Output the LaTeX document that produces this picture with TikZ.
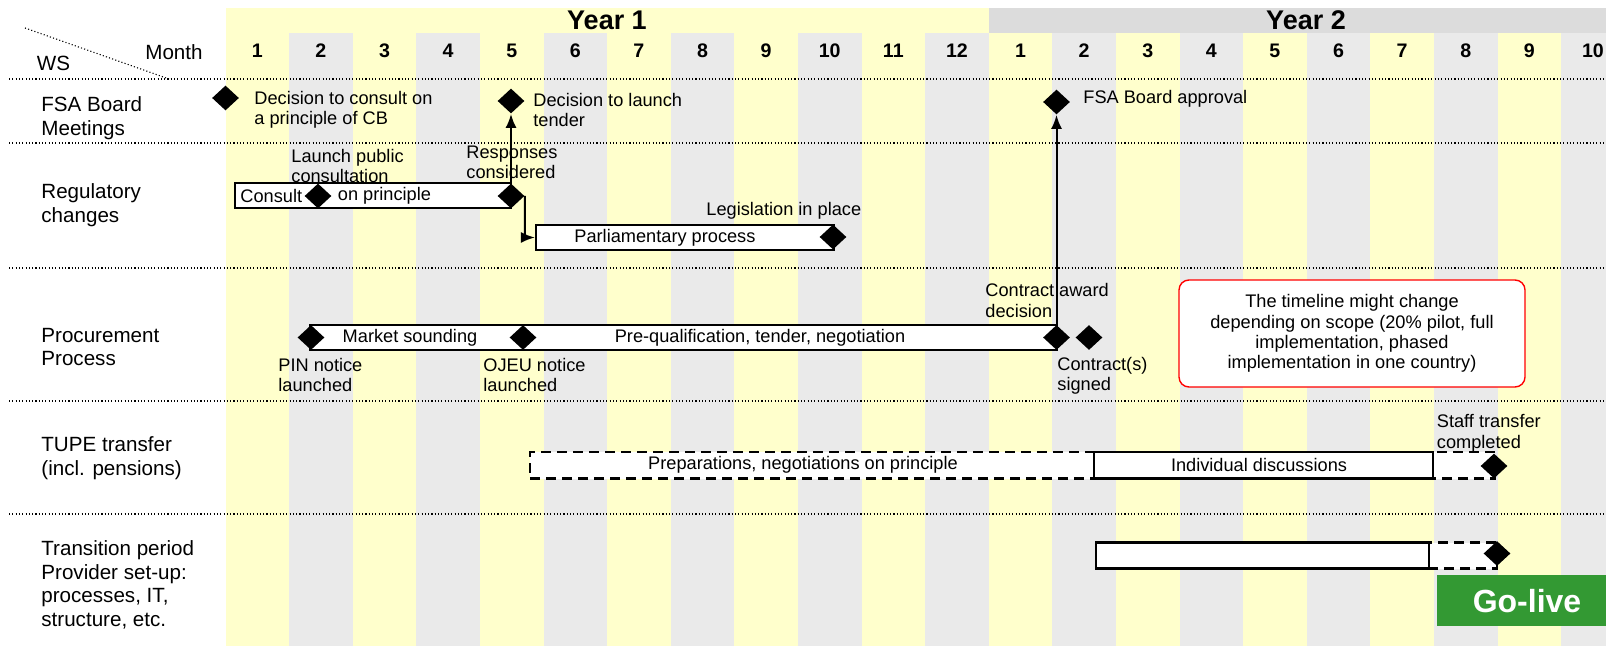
\documentclass[tikz,border=0pt]{standalone}
\usepackage{fontspec}
\setmainfont{Liberation Sans}
\usetikzlibrary{shapes.geometric,fit,arrows.meta}
\definecolor{colyellow}{HTML}{FFFFCC}
\definecolor{colgray}{HTML}{EAEAEA}
\definecolor{yeargray}{HTML}{DCDCDC}
\definecolor{golive}{HTML}{339933}

\begin{document}
\begin{tikzpicture}[x=0.5pt,y=-0.5pt,
  lbl/.style={font=\fontsize{10.3}{11.75}\selectfont, align=left, anchor=west, inner sep=0},
  note/.style={font=\fontsize{9.1}{10.2}\selectfont, align=left, anchor=west, inner sep=0},
  mon/.style={font=\fontsize{9.8}{11}\selectfont\bfseries, inner sep=0},
  yr/.style={font=\fontsize{13.5}{15}\selectfont\bfseries, inner sep=0},
  sep/.style={line width=0.55pt, dash pattern=on 0.55pt off 1.1pt},
  bar/.style={draw, fill=white, line width=1.1pt, inner sep=0},
  dbar/.style={bar, dash pattern=on 5pt off 3pt},
  ms/.style={diamond, fill=black, inner sep=0, minimum width=13.5pt, minimum height=12.5pt},
  link/.style={line width=1pt, -{Latex[length=7pt,width=5.5pt]}}]

\useasboundingbox (0,0) rectangle (1606,646);
\fill[colyellow] (225.5,8) rectangle (988.7,33);
\fill[yeargray] (988.7,8) rectangle (1606,33);
\foreach \m [count=\i from 0] in {1,2,3,4,5,6,7,8,9,10,11,12,1,2,3,4,5,6,7,8,9,10} {
  \pgfmathsetmacro\xa{225.5+63.6*\i}
  \ifodd\i\relax\def\cc{colgray}\else\def\cc{colyellow}\fi
  \fill[fill=\cc] (\xa,33) rectangle ++(63.6,613);
  \node[mon] at (\xa+31.8,51) {\m};
}
\node[yr] (year1) at (607,20) {Year 1};
\node[yr] (year2) at (1306,20) {Year 2};

\foreach \y in {79,143,268,401,514} \draw[sep] (9,\y) -- (1606,\y);
\draw[sep] (25,28) -- (169,79);
\node[lbl, anchor=center] (ws) at (53.5,63) {WS};
\node[lbl, anchor=center] (month) at (174,52) {Month};

\node[lbl] (fsa) at (41,118) {FSA Board\\Meetings};
\node[lbl] (reg) at (41,205) {Regulatory\\changes};
\node[lbl] (proc) at (41,347) {Procurement\\Process};
\node[lbl] (tupe) at (41,458) {TUPE transfer\\(incl. pensions)};
\node[lbl] (trans) at (41,585) {Transition period\\Provider set-up:\\processes, IT,\\structure, etc.};

\node[ms] (cons) at (225.5,98) {};
\node[note] at (254,110) {Decision to consult on\\a principle of CB};
\node[ms] (launch) at (511,101) {};
\node[note] at (533,110) {Decision to launch\\tender};
\node[ms] (appr) at (1056.5,102) {};
\node[note] at (1083,98.5) {FSA Board approval};

\node[bar, fit={(235,183) (511,208)}] (consbar) {};
\node[note] at (240,196) {Consult};
\node[ms] (pub) at (318,196) {};
\node[note] at (337.5,196) {on principle};
\node[ms] (resp) at (511,196) {};
\node[note] at (291,166) {Launch public\\consultation};
\node[note] at (466,162.5) {Responses\\considered};
\node[bar, fit={(536,225) (834,250)}] (parl) {};
\node[note] at (574,237.5) {Parliamentary process};
\node[ms] (legis) at (833,237) {};
\node[note] at (706,210.5) {Legislation in place};
\draw[link] (resp) -- (launch);
\draw[link] (resp.east) -- (525,237.5) -- (parl.west);

\node[bar, fit={(310,325) (1057,350)}] (procbar) {};
\node[ms] (pin) at (311,337.5) {};
\node[ms] (ojeu) at (523,337.5) {};
\node[ms] (award) at (1056.5,337.5) {};
\node[ms] (signed) at (1089,337.5) {};
\node[note, anchor=center] at (410,337.5) {Market sounding};
\node[note, anchor=center] at (760,337.5) {Pre-qualification, tender, negotiation};
\node[note] at (278,375) {PIN notice\\launched};
\node[note] at (483,375) {OJEU notice\\launched};
\node[note] at (985,300.5) {Contract award\\decision};
\node[note] at (1057,376) {Contract(s)\\signed};
\draw[link] (award) -- (appr);

\node[draw=red, line width=0.7pt, rounded corners=5pt, fill=white, inner sep=0, fit={(1179,280) (1525,387)}] (notebox) {};
\node[note, align=center, anchor=center] at (notebox.center) {The timeline might change\\depending on scope (20\% pilot, full\\implementation, phased\\implementation in one country)};

\node[dbar, fit={(530,452) (1495,478.5)}] (prep) {};
\node[note, anchor=center] at (803,464.5) {Preparations, negotiations on principle};
\node[bar, fit={(1094,452) (1433,478.5)}] (indiv) {};
\node[note, anchor=center] at (1259,465) {Individual discussions};
\node[ms] (staff) at (1494,466) {};
\node[note] at (1436.5,433.5) {Staff transfer\\completed};

\node[dbar, fit={(1380,542.5) (1497,568.5)}] (trdash) {};
\node[bar, fit={(1096,542.5) (1429,568.5)}] (setup) {};
\node[ms] (live) at (1497,553.5) {};
\fill[golive] (1437,575) rectangle (1617,626);
\node[text=white, font=\fontsize{16}{18}\selectfont\bfseries, inner sep=0] (golive) at (1527,601) {Go-live};
\end{tikzpicture}
\end{document}
